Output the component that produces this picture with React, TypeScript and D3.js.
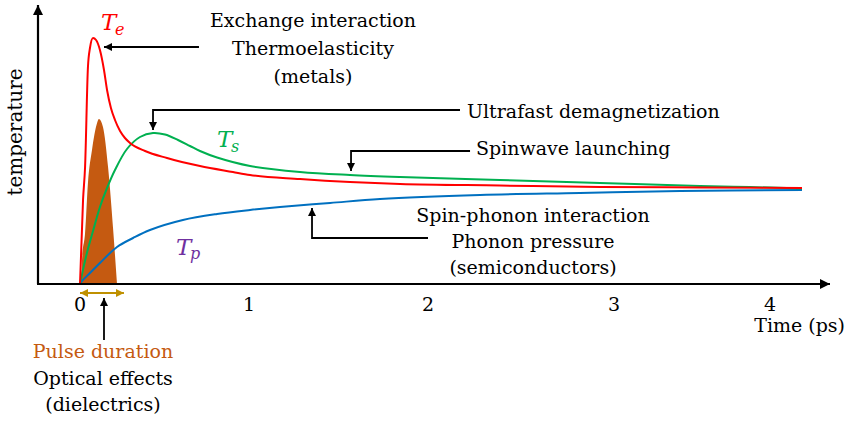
import React from "react";
import * as d3 from "d3";

// ---- data (time in ps, temperature in arbitrary units) ----
const tickValues = [0, 1, 2, 3, 4];
const tickLabels = ["0", "1", "2", "3", "4"];

const teTime = [0, 0.018, 0.03, 0.047, 0.059, 0.077, 0.095, 0.118, 0.142, 0.16, 0.183, 0.207, 0.237, 0.266, 0.296, 0.385, 0.515, 0.71, 0.905, 1.006, 1.285, 1.564, 1.844, 2.387, 2.925, 3.551, 4.205];
const teValue = [0, 33.6, 46.8, 86.8, 94.4, 98.4, 97.6, 93.6, 85.6, 77.6, 70.4, 65.6, 61.2, 58.4, 56.4, 53.2, 50.4, 47.2, 44.8, 43.6, 42, 40.8, 40, 39.4, 38.8, 38.6, 38.4];

const tsTime = [0, 0.024, 0.047, 0.077, 0.118, 0.16, 0.207, 0.278, 0.355, 0.432, 0.503, 0.58, 0.651, 0.71, 0.811, 1.006, 1.285, 1.564, 1.844, 2.387, 2.925, 3.551, 3.872, 4.205];
const tsValue = [0, 7.6, 14, 21.2, 30.8, 38.4, 45.6, 54, 58.8, 60.4, 59.8, 57.6, 55.2, 53.2, 50.6, 47.2, 44.8, 43.6, 42.8, 41.6, 40.4, 39.2, 38.8, 38.2];

const tpTime = [0, 0.012, 0.059, 0.118, 0.219, 0.314, 0.414, 0.609, 0.811, 1.006, 1.173, 1.453, 1.732, 2.28, 2.817, 3.423, 4.205];
const tpValue = [0, 1.2, 4.4, 8.4, 14.8, 18.4, 21.6, 25.6, 28, 29.6, 30.8, 32.4, 34, 35.6, 36.4, 37.2, 37.6];

const pulseTime = [0.006, 0.012, 0.03, 0.047, 0.071, 0.101, 0.112, 0.136, 0.166, 0.195, 0.219];
const pulseValue = [0, 9.6, 20.4, 40.4, 53.6, 64.4, 66, 62.8, 46.8, 22.8, 0];

const topNotes = ["Exchange interaction", "Thermoelasticity", "(metals)"];
const phononNotes = ["Spin-phonon interaction", "Phonon pressure", "(semiconductors)"];
const opticalNotes = ["Optical effects", "(dielectrics)"];

const FONT = "'DejaVu Serif', serif";

export default function App() {
  const W = 857, H = 425;
  const x = d3.scaleLinear().domain(tickValues).range([80, 249, 428, 614, 770]);
  const y = d3.scaleLinear().domain([0, 100]).range([284, 34]);

  const mk = (ts: number[], vs: number[], curve: d3.CurveFactory) =>
    d3.line<number>().x((d, i) => x(ts[i])).y((d) => y(d)).curve(curve)(vs) as string;

  const pulsePath = d3
    .area<number>()
    .x((d, i) => x(pulseTime[i]))
    .y0(y(0))
    .y1((d) => y(d))
    .curve(d3.curveMonotoneX)(pulseValue) as string;

  const axisY = y(0);
  const axisX = 38;
  const smooth = d3.curveCatmullRom.alpha(0.5);

  return (
    <svg width={W} height={H} style={{ position: "absolute", left: 0, top: 0, background: "#fff" }} fontFamily={FONT}>
      <defs>
        <marker id="ah" markerUnits="userSpaceOnUse" markerWidth={9} markerHeight={8} refX={8} refY={4} orient="auto">
          <path d="M0,0 L8,4 L0,8 z" fill="#000" />
        </marker>
        <marker id="ax" markerUnits="userSpaceOnUse" markerWidth={11} markerHeight={10} refX={10} refY={5} orient="auto">
          <path d="M0,0 L10,5 L0,10 z" fill="#000" />
        </marker>
        <marker id="gold" markerUnits="userSpaceOnUse" markerWidth={9} markerHeight={8} refX={8} refY={4} orient="auto-start-reverse">
          <path d="M0,0 L8,4 L0,8 z" fill="#BF9000" />
        </marker>
      </defs>

      {/* pulse */}
      <path d={pulsePath} fill="#C55A11" />

      {/* curves */}
      <path d={mk(tpTime, tpValue, smooth)} fill="none" stroke="#0070C0" strokeWidth={2} />
      <path d={mk(tsTime, tsValue, smooth)} fill="none" stroke="#00B050" strokeWidth={2} />
      <path d={mk(teTime, teValue, d3.curveMonotoneX)} fill="none" stroke="#FF0000" strokeWidth={2} />

      {/* axes */}
      <line x1={axisX} y1={axisY} x2={axisX} y2={5} stroke="#000" strokeWidth={2.2} markerEnd="url(#ax)" />
      <line x1={axisX - 1} y1={axisY} x2={830} y2={axisY} stroke="#000" strokeWidth={2.2} markerEnd="url(#ax)" />

      {tickValues.map((t, i) => (
        <text key={t} x={x(t)} y={311} textAnchor="middle" fontSize={19} fill="#000">
          {tickLabels[i]}
        </text>
      ))}
      <text x={845} y={332} textAnchor="end" fontSize={19}>Time (ps)</text>
      <text transform="translate(22,132) rotate(-90)" textAnchor="middle" fontSize={20}>temperature</text>

      {/* series labels */}
      <text x={101} y={30} fontSize={23} fontStyle="italic" fill="#FF0000">T</text>
      <text x={115} y={35} fontSize={16} fontStyle="italic" fill="#FF0000">e</text>
      <text x={217} y={147} fontSize={23} fontStyle="italic" fill="#00B050">T</text>
      <text x={231} y={152} fontSize={16} fontStyle="italic" fill="#00B050">s</text>
      <text x={176} y={255} fontSize={23} fontStyle="italic" fill="#7030A0">T</text>
      <text x={190} y={259} fontSize={16} fontStyle="italic" fill="#7030A0">p</text>

      {/* Exchange annotation */}
      <line x1={x(0.704)} y1={y(94.8)} x2={x(0.142)} y2={y(94.8)} stroke="#000" strokeWidth={1.8} markerEnd="url(#ah)" />
      {topNotes.map((s, i) => (
        <text key={s} x={313} y={27 + i * 28} textAnchor="middle" fontSize={19}>{s}</text>
      ))}

      {/* Ultrafast demagnetization */}
      <path d={`M${x(2.172)},${y(69.6)} H${x(0.432)} V${y(61.6)}`} fill="none" stroke="#000" strokeWidth={1.8} markerEnd="url(#ah)" />
      <text x={467} y={118} fontSize={19}>Ultrafast demagnetization</text>

      {/* Spinwave launching */}
      <path d={`M${x(2.226)},${y(53.2)} H${x(1.57)} V${y(45.2)}`} fill="none" stroke="#000" strokeWidth={1.8} markerEnd="url(#ah)" />
      <text x={476} y={155} fontSize={19}>Spinwave launching</text>

      {/* Spin-phonon */}
      <path d={`M${x(2.0)},${y(18.4)} H${x(1.352)} V${y(30.4)}`} fill="none" stroke="#000" strokeWidth={1.8} markerEnd="url(#ah)" />
      {phononNotes.map((s, i) => (
        <text key={s} x={533} y={222 + i * 26} textAnchor="middle" fontSize={19}>{s}</text>
      ))}

      {/* pulse duration */}
      <line x1={x(0.0)} y1={293} x2={x(0.26)} y2={293} stroke="#BF9000" strokeWidth={2} markerStart="url(#gold)" markerEnd="url(#gold)" />
      <line x1={x(0.142)} y1={340} x2={x(0.142)} y2={298} stroke="#000" strokeWidth={1.8} markerEnd="url(#ah)" />
      <text x={103} y={358} textAnchor="middle" fontSize={19} fill="#C55A11">Pulse duration</text>
      {opticalNotes.map((s, i) => (
        <text key={s} x={103} y={385 + i * 26} textAnchor="middle" fontSize={19}>{s}</text>
      ))}
    </svg>
  );
}
